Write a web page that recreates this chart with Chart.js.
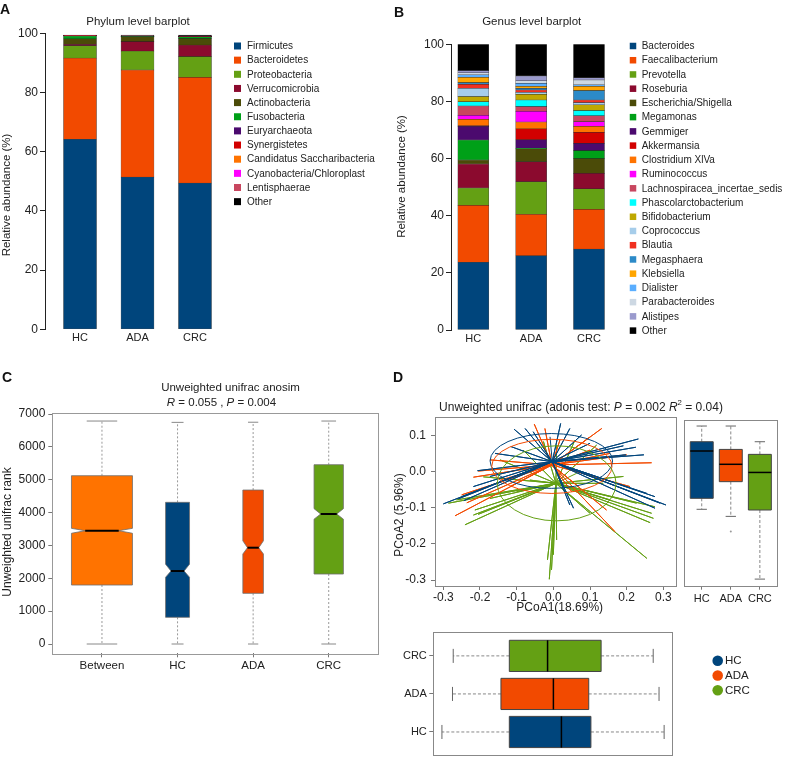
<!DOCTYPE html>
<html>
<head>
<meta charset="utf-8">
<title>Microbiota composition and beta diversity</title>
<script src="https://cdn.jsdelivr.net/npm/chart.js@4.4.1/dist/chart.umd.min.js"></script>
<style>
  html, body { margin: 0; padding: 0; background: #fff; }
  #fig { position: relative; width: 792px; height: 767px; overflow: hidden; background: #fff; }
  #fig canvas { position: absolute; }
</style>
</head>
<body>
<div id="fig"></div>
<script>
// ---- data ----
const groups = ['HC', 'ADA', 'CRC'];

// A: phylum level (relative abundance, %)
const phyla = ['Firmicutes', 'Bacteroidetes', 'Proteobacteria', 'Verrucomicrobia', 'Actinobacteria',
  'Fusobacteria', 'Euryarchaeota', 'Synergistetes', 'Candidatus Saccharibacteria',
  'Cyanobacteria/Chloroplast', 'Lentisphaerae', 'Other'];
const phylumHC = [64.2, 27.4, 4.2, 0.5, 1.8, 1.0, 0.05, 0.05, 0.05, 0.03, 0.02, 0.1];
const phylumADA = [51.4, 36.2, 6.4, 3.2, 1.6, 0.1, 0.05, 0.05, 0.05, 0.03, 0.02, 0.3];
const phylumCRC = [49.4, 35.7, 7.0, 3.9, 2.2, 0.6, 0.05, 0.05, 0.05, 0.03, 0.02, 0.4];
const phylumColors = ['#00457c', '#f24a00', '#64a014', '#8b0a2e', '#4b4b08', '#00a018',
  '#4b0a6e', '#d20000', '#ff7300', '#ff00ff', '#c8465f', '#000000'];

// B: genus level (relative abundance, %)
const genera = ['Bacteroides', 'Faecalibacterium', 'Prevotella', 'Roseburia', 'Escherichia/Shigella',
  'Megamonas', 'Gemmiger', 'Akkermansia', 'Clostridium XlVa', 'Ruminococcus',
  'Lachnospiracea_incertae_sedis', 'Phascolarctobacterium', 'Bifidobacterium', 'Coprococcus',
  'Blautia', 'Megasphaera', 'Klebsiella', 'Dialister', 'Parabacteroides', 'Alistipes', 'Other'];
const genusHC = [23.7, 19.9, 6.1, 8.4, 1.4, 7.0, 4.8, 0.2, 2.2, 1.4, 3.3, 1.5, 1.8, 2.9, 1.4, 0.6, 1.8, 0.9, 0.7, 0.8, 9.2];
const genusADA = [26.0, 14.5, 11.4, 7.0, 4.5, 0.2, 3.0, 3.8, 2.4, 3.7, 1.7, 2.3, 2.0, 0.7, 0.8, 0.6, 0.7, 1.0, 0.9, 1.7, 11.1];
const genusCRC = [28.3, 13.9, 7.2, 5.4, 5.2, 2.8, 2.5, 3.9, 2.1, 1.6, 2.1, 1.8, 2.0, 0.8, 0.9, 3.3, 1.5, 0.5, 1.7, 0.8, 11.7];
const genusColors = ['#00457c', '#f24a00', '#64a014', '#8b0a2e', '#4b4b08', '#00a018', '#4b0a6e',
  '#d20000', '#ff7300', '#ff00ff', '#c8465f', '#00ffff', '#bfa800', '#a6cdea', '#f03020',
  '#2c8ac8', '#ffa500', '#5aaeff', '#cdd8e3', '#9a9acd', '#000000'];
const abundanceTicks = [0, 20, 40, 60, 80, 100];

// C: anosim ranks
const anosimGroups = ['Between', 'HC', 'ADA', 'CRC'];
const rankLow = [0, 0, 0, 0];
const rankQ1 = [1795, 812, 1542, 2130];
const rankMedian = [3448, 2221, 2931, 3956];
const rankQ3 = [5122, 4312, 4686, 5457];
const rankHigh = [6786, 6746, 6750, 6786];
const rankNotchLow = [3370, 2030, 2740, 3800];
const rankNotchHigh = [3520, 2430, 3140, 4120];
const rankTicks = [0, 1000, 2000, 3000, 4000, 5000, 6000, 7000];
const anosimColors = ['#ff7300', '#00457c', '#f24a00', '#64a014'];

// D: PCoA
const groupColors = ['#00457c', '#f24a00', '#64a014'];
const centroidPC1 = [-0.003, -0.004, 0.007];
const centroidPC2 = [0.028, 0.019, -0.032];
const hcPC1 = [-0.300, -0.244, -0.250, -0.259, -0.207, -0.173, -0.107, -0.077, -0.055, -0.116, 0.020, 0.045, 0.100, 0.232, 0.225,
  0.191, 0.247, 0.198, 0.277, 0.277, 0.307, 0.291, 0.055, 0.045, -0.159, -0.041, -0.218, 0.077, 0.255, -0.009];
const hcPC2 = [-0.089, -0.080, -0.069, -0.075, 0.003, -0.013, 0.118, 0.120, 0.111, 0.070, 0.134, 0.120, 0.079, 0.091, 0.068,
  0.072, 0.047, 0.047, -0.069, -0.101, -0.092, -0.087, -0.101, -0.092, 0.051, 0.014, -0.041, 0.102, -0.060, 0.097];
const adaPC1 = [-0.268, -0.250, -0.236, -0.205, -0.218, -0.173, -0.052, -0.023, 0.018, 0.132, 0.098, 0.155, 0.268, 0.200, 0.168,
  0.145, 0.068, -0.118, 0.050, 0.209, 0.100, -0.145];
const adaPC2 = [-0.122, -0.064, -0.086, 0.002, -0.015, 0.033, 0.132, 0.120, 0.088, 0.120, 0.095, 0.051, 0.025, 0.047, -0.166,
  -0.106, -0.041, -0.041, -0.055, -0.041, 0.060, -0.023];
const crcPC1 = [-0.286, -0.264, -0.241, -0.205, -0.214, -0.173, -0.191, -0.145, -0.082, -0.027, 0.009, 0.059, 0.118, 0.191, 0.277, 0.273,
  0.264, 0.268, 0.255, -0.016, -0.011, 0.000, -0.005, 0.009, 0.227, 0.136, -0.100, -0.064, 0.100, -0.218, 0.155, 0.064];
const crcPC2 = [-0.087, -0.078, -0.147, -0.118, -0.106, -0.074, -0.014, 0.033, 0.060, 0.084, 0.074, 0.088, 0.074, -0.013, -0.097, -0.129,
  -0.141, -0.115, -0.240, -0.244, -0.298, -0.230, -0.272, -0.189, -0.087, -0.032, -0.055, -0.023, -0.115, -0.120, -0.078, -0.004];
const ellipseX = [-0.0055, -0.004, 0.009];
const ellipseY = [0.030, 0.015, -0.032];
const ellipseRX = [0.167, 0.164, 0.162];
const ellipseRY = [0.076, 0.075, 0.104];
const pc1Ticks = [-0.3, -0.2, -0.1, 0.0, 0.1, 0.2, 0.3];
const pc2Ticks = [-0.3, -0.2, -0.1, 0.0, 0.1];
// PCoA2 boxplot (right)
const pc2Low = [-0.101, -0.121, -0.298];
const pc2Q1 = [-0.070, -0.023, -0.103];
const pc2Median = [0.0635, 0.026, 0.003];
const pc2Q3 = [0.0897, 0.068, 0.054];
const pc2High = [0.134, 0.134, 0.0897];
const pc2Outliers = [[], [-0.164], []];
// PCoA1 boxplot (bottom)
const pc1Low = [-0.299, -0.270, -0.268];
const pc1Q1 = [-0.114, -0.137, -0.114];
const pc1Median = [0.029, 0.007, -0.009];
const pc1Q3 = [0.110, 0.104, 0.138];
const pc1High = [0.311, 0.297, 0.281];

// ---- setup ----
const FONT = '"Liberation Sans", Arial, sans-serif';
Chart.defaults.font.family = FONT;
Chart.defaults.font.size = 12;
Chart.defaults.color = '#222';
Chart.defaults.animation = false;
Chart.defaults.responsive = false;
Chart.defaults.plugins.legend.display = false;
Chart.defaults.plugins.tooltip.enabled = false;

const fig = document.getElementById('fig');

function makeCanvas(c) {
  const cv = document.createElement('canvas');
  cv.width = c.w;
  cv.height = c.h;
  cv.style.left = c.l + 'px';
  cv.style.top = c.t + 'px';
  fig.appendChild(cv);
  return cv.getContext('2d');
}

// padding + fixed axis sizes so that the chart area lands on plot rect p
function area(c, p, hasX, hasY) {
  const xH = c.t + c.h - p.b, yW = p.l - c.l;
  return {
    padding: { left: hasY ? 0 : yW, top: p.t - c.t, right: c.l + c.w - p.r, bottom: hasX ? 0 : xH },
    xH, yW
  };
}

const fixedTicks = values => a => { a.ticks = values.map(v => ({ value: v })); };
const rGrid = { drawOnChartArea: false, drawTicks: true, tickLength: 4, color: '#777', lineWidth: 1 };

function textFont(r, it) {
  const size = r.sup ? it.size * 0.65 : it.size;
  return `${r.italic ? 'italic ' : ''}${it.weight || 'normal'} ${size}px ${FONT}`;
}

// free text (titles, axis titles, panel letters)
const notesPlugin = {
  id: 'notes',
  afterDraw(chart, args, o) {
    if (!o.items) return;
    const ctx = chart.ctx;
    o.items.forEach(it => {
      ctx.save();
      ctx.translate(it.x - o.origin[0], it.y - o.origin[1]);
      if (it.rotate) ctx.rotate(it.rotate * Math.PI / 180);
      ctx.fillStyle = it.color || '#222';
      ctx.textBaseline = it.baseline || 'middle';
      ctx.textAlign = 'left';
      const runs = typeof it.text === 'string' ? [{ t: it.text }] : it.text;
      let total = 0;
      runs.forEach(r => { ctx.font = textFont(r, it); total += ctx.measureText(r.t).width; });
      let x = it.align === 'left' ? 0 : -total / 2;
      runs.forEach(r => {
        ctx.font = textFont(r, it);
        ctx.fillText(r.t, x, r.sup ? -it.size * 0.4 : 0);
        x += ctx.measureText(r.t).width;
      });
      ctx.restore();
    });
  }
};

// legend list drawn at a fixed spot
const keyPlugin = {
  id: 'key',
  afterDraw(chart, args, o) {
    if (!o.labels) return;
    const ctx = chart.ctx;
    ctx.save();
    o.labels.forEach((label, i) => {
      const y = o.y + i * o.step - o.origin[1];
      const x = o.x - o.origin[0];
      ctx.fillStyle = o.colors[i];
      if (o.round) {
        ctx.beginPath();
        ctx.arc(x, y, o.box / 2, 0, Math.PI * 2);
        ctx.fill();
      } else {
        ctx.fillRect(x - o.box / 2, y - o.box / 2, o.box, o.box);
      }
      ctx.fillStyle = '#222';
      ctx.font = `${o.size}px ${FONT}`;
      ctx.textBaseline = 'middle';
      ctx.textAlign = 'left';
      ctx.fillText(label, o.textX - o.origin[0], y + 0.5);
    });
    ctx.restore();
  }
};

// grey box round the plot region
const framePlugin = {
  id: 'frame',
  afterDraw(chart, args, o) {
    if (!o.color) return;
    const { left, top, right, bottom } = chart.chartArea;
    const ctx = chart.ctx;
    ctx.save();
    ctx.strokeStyle = o.color;
    ctx.lineWidth = 1;
    ctx.strokeRect(Math.round(left) + 0.5, Math.round(top) + 0.5, Math.round(right - left), Math.round(bottom - top));
    ctx.restore();
  }
};

// box-and-whisker plots, positions 1..n on the category axis
const boxPlugin = {
  id: 'boxes',
  afterDatasetsDraw(chart, args, o) {
    if (!o.stats) return;
    const ctx = chart.ctx;
    const hz = !!o.horizontal;
    const ps = chart.scales[hz ? 'y' : 'x'], vs = chart.scales[hz ? 'x' : 'y'];
    const pt = (p, v) => hz ? [vs.getPixelForValue(v), ps.getPixelForValue(p)]
                            : [ps.getPixelForValue(p), vs.getPixelForValue(v)];
    const seg = (a, b) => { ctx.beginPath(); ctx.moveTo(a[0], a[1]); ctx.lineTo(b[0], b[1]); ctx.stroke(); };
    ctx.save();
    o.stats.forEach((s, i) => {
      const p = i + 1, hw = o.widths[i] / 2, cw = hw * o.capFrac;
      ctx.lineWidth = 1;
      ctx.strokeStyle = o.whiskerColor;
      ctx.setLineDash(o.dash);
      seg(pt(p, s.q3), pt(p, s.hi));
      seg(pt(p, s.q1), pt(p, s.lo));
      ctx.setLineDash([]);
      ctx.strokeStyle = o.capColor;
      seg(pt(p - cw, s.hi), pt(p + cw, s.hi));
      seg(pt(p - cw, s.lo), pt(p + cw, s.lo));
      const notched = s.nlo != null;
      const nf = notched ? hw * o.notchFrac : hw;
      const poly = notched
        ? [[p - hw, s.q1], [p - hw, s.nlo], [p - nf, s.med], [p - hw, s.nhi], [p - hw, s.q3],
           [p + hw, s.q3], [p + hw, s.nhi], [p + nf, s.med], [p + hw, s.nlo], [p + hw, s.q1]]
        : [[p - hw, s.q1], [p - hw, s.q3], [p + hw, s.q3], [p + hw, s.q1]];
      ctx.beginPath();
      poly.forEach(([a, b], k) => { const [x, y] = pt(a, b); k ? ctx.lineTo(x, y) : ctx.moveTo(x, y); });
      ctx.closePath();
      ctx.fillStyle = o.colors[i];
      ctx.fill();
      ctx.strokeStyle = o.borderColor;
      ctx.stroke();
      ctx.strokeStyle = '#000';
      ctx.lineWidth = o.medianWidth;
      seg(pt(p - nf, s.med), pt(p + nf, s.med));
      (s.out || []).forEach(v => {
        const [x, y] = pt(p, v);
        ctx.fillStyle = '#999';
        ctx.beginPath();
        ctx.arc(x, y, 1, 0, Math.PI * 2);
        ctx.fill();
      });
    });
    ctx.restore();
  }
};

// group ellipses on the PCoA plot
const ellipsePlugin = {
  id: 'ellipses',
  afterDatasetsDraw(chart, args, o) {
    if (!o.cx) return;
    const { x, y } = chart.scales;
    const ctx = chart.ctx;
    ctx.save();
    o.cx.forEach((cx, i) => {
      const px = x.getPixelForValue(cx), py = y.getPixelForValue(o.cy[i]);
      const rx = Math.abs(x.getPixelForValue(cx + o.rx[i]) - px);
      const ry = Math.abs(y.getPixelForValue(o.cy[i] + o.ry[i]) - py);
      ctx.strokeStyle = o.colors[i];
      ctx.lineWidth = 1;
      ctx.beginPath();
      ctx.ellipse(px, py, rx, ry, 0, 0, Math.PI * 2);
      ctx.stroke();
    });
    ctx.restore();
  }
};

Chart.register(notesPlugin, keyPlugin, framePlugin, boxPlugin, ellipsePlugin);

// stacked bar panel (A and B)
function barPanel(c, p, xMin, xMax, barWidth, names, colors, perGroup, notes, key) {
  const f = area(c, p, true, true);
  return new Chart(makeCanvas(c), {
    type: 'bar',
    data: {
      datasets: names.map((name, i) => ({
        label: name,
        data: groups.map((g, gi) => ({ x: gi + 1, y: perGroup[gi][i] })),
        backgroundColor: colors[i],
        borderColor: 'rgba(0,0,0,0.7)',
        borderWidth: 0.5,
        borderSkipped: false,
        barThickness: barWidth
      }))
    },
    options: {
      layout: { padding: f.padding },
      scales: {
        x: {
          type: 'linear', min: xMin, max: xMax, stacked: true, offset: false,
          afterBuildTicks: fixedTicks(groups.map((g, i) => i + 1)),
          afterFit: a => { a.height = f.xH; },
          grid: { display: false, drawTicks: false, tickLength: 0, offset: false },
          border: { display: false },
          ticks: { callback: v => groups[v - 1], font: { size: 11 }, padding: 2, autoSkip: false, maxRotation: 0 }
        },
        y: {
          type: 'linear', min: 0, max: 100, stacked: true,
          afterBuildTicks: fixedTicks(abundanceTicks),
          afterFit: a => { a.width = f.yW; },
          grid: { drawOnChartArea: false, tickLength: 5, color: '#222' },
          border: { display: true, color: '#222', width: 1 },
          ticks: { callback: v => String(v), font: { size: 12 }, padding: 2 }
        }
      },
      plugins: {
        notes: { origin: [c.l, c.t], items: notes },
        key: Object.assign({ origin: [c.l, c.t], labels: names, colors: colors }, key)
      }
    }
  });
}

// ---- A ----
const cA = { l: 0, t: 0, w: 390, h: 345 };
barPanel(cA, { l: 45, t: 33.3, r: 230, b: 329.3 }, 0.391, 3.609, 33,
  phyla, phylumColors, [phylumHC, phylumADA, phylumCRC],
  [
    { text: 'A', x: 0, y: 13.5, size: 14, weight: 'bold', align: 'left', baseline: 'alphabetic', color: '#111' },
    { text: 'Phylum level barplot', x: 138, y: 22, size: 11.5 },
    { text: 'Relative abundance (%)', x: 7, y: 195, size: 11.5, rotate: -90 }
  ],
  { x: 237.5, y: 46, step: 14.15, box: 7, textX: 247, size: 10 });

// ---- B ----
const cB = { l: 390, t: 0, w: 402, h: 345 };
barPanel(cB, { l: 451, t: 44.3, r: 620, b: 330 }, 0.6145, 3.536, 31,
  genera, genusColors, [genusHC, genusADA, genusCRC],
  [
    { text: 'B', x: 394, y: 16.7, size: 14, weight: 'bold', align: 'left', baseline: 'alphabetic', color: '#111' },
    { text: 'Genus level barplot', x: 531.7, y: 22, size: 11.5 },
    { text: 'Relative abundance (%)', x: 401.7, y: 176.5, size: 11.5, rotate: -90 }
  ],
  { x: 633, y: 46, step: 14.23, box: 6.5, textX: 641.7, size: 10 });

// ---- C ----
const cC = { l: 0, t: 345, w: 390, h: 340 };
const fC = area(cC, { l: 52.3, t: 412.7, r: 378.3, b: 653.3 }, true, true);
new Chart(makeCanvas(cC), {
  type: 'scatter',
  data: { datasets: [] },
  options: {
    layout: { padding: fC.padding },
    scales: {
      x: {
        type: 'linear', min: 0.343, max: 4.656,
        afterBuildTicks: fixedTicks(anosimGroups.map((g, i) => i + 1)),
        afterFit: a => { a.height = fC.xH; },
        grid: rGrid, border: { display: false },
        ticks: { callback: v => anosimGroups[v - 1], font: { size: 11.5 }, padding: 2, autoSkip: false, maxRotation: 0 }
      },
      y: {
        type: 'linear', min: -283, max: 7040,
        afterBuildTicks: fixedTicks(rankTicks),
        afterFit: a => { a.width = fC.yW; },
        grid: rGrid, border: { display: false },
        ticks: { callback: v => String(v), font: { size: 12 }, padding: 3 }
      }
    },
    plugins: {
      frame: { color: '#999' },
      boxes: {
        stats: anosimGroups.map((g, i) => ({
          lo: rankLow[i], q1: rankQ1[i], med: rankMedian[i], q3: rankQ3[i], hi: rankHigh[i],
          nlo: rankNotchLow[i], nhi: rankNotchHigh[i]
        })),
        widths: [0.807, 0.317, 0.272, 0.388],
        colors: anosimColors,
        capFrac: 0.5, notchFrac: 0.55, medianWidth: 2,
        whiskerColor: '#999', capColor: '#888', borderColor: 'rgba(110,110,110,0.8)', dash: [2, 2]
      },
      notes: {
        origin: [cC.l, cC.t],
        items: [
          { text: 'C', x: 2, y: 381.7, size: 14, weight: 'bold', align: 'left', baseline: 'alphabetic', color: '#111' },
          { text: 'Unweighted unifrac anosim', x: 230.5, y: 388, size: 11.5 },
          { text: [{ t: 'R', italic: true }, { t: ' = 0.055 , ' }, { t: 'P', italic: true }, { t: ' = 0.004' }], x: 221.5, y: 402.7, size: 11.5 },
          { text: 'Unweighted unifrac rank', x: 8, y: 532, size: 12, rotate: -90 }
        ]
      }
    }
  }
});

// ---- D: PCoA spider plot ----
const cD1 = { l: 390, t: 345, w: 402, h: 275 };
const fD1 = area(cD1, { l: 435, t: 417.3, r: 676, b: 586 }, true, true);
const endsPC1 = [hcPC1, adaPC1, crcPC1];
const endsPC2 = [hcPC2, adaPC2, crcPC2];
new Chart(makeCanvas(cD1), {
  type: 'scatter',
  data: {
    datasets: groups.map((g, gi) => ({
      label: g,
      data: endsPC1[gi].flatMap((x, k) => [
        { x: centroidPC1[gi], y: centroidPC2[gi] },
        { x: x, y: endsPC2[gi][k] }
      ]),
      showLine: true,
      pointRadius: 0,
      borderColor: groupColors[gi],
      borderWidth: 1,
      tension: 0
    }))
  },
  options: {
    layout: { padding: fD1.padding },
    scales: {
      x: {
        type: 'linear', min: -0.3227, max: 0.3345,
        afterBuildTicks: fixedTicks(pc1Ticks),
        afterFit: a => { a.height = fD1.xH; },
        grid: rGrid, border: { display: false },
        ticks: { callback: v => v.toFixed(1), font: { size: 12 }, padding: 0, autoSkip: false, maxRotation: 0 }
      },
      y: {
        type: 'linear', min: -0.3166, max: 0.151,
        afterBuildTicks: fixedTicks(pc2Ticks),
        afterFit: a => { a.width = fD1.yW; },
        grid: rGrid, border: { display: false },
        ticks: { callback: v => v.toFixed(1), font: { size: 12 }, padding: 5 }
      }
    },
    plugins: {
      frame: { color: '#888' },
      ellipses: { cx: ellipseX, cy: ellipseY, rx: ellipseRX, ry: ellipseRY, colors: groupColors },
      notes: {
        origin: [cD1.l, cD1.t],
        items: [
          { text: 'D', x: 393, y: 381.5, size: 14, weight: 'bold', align: 'left', baseline: 'alphabetic', color: '#111' },
          { text: [{ t: 'Unweighted unifrac (adonis test: ' }, { t: 'P', italic: true }, { t: ' = 0.002 ' },
                   { t: 'R', italic: true }, { t: '2', sup: true }, { t: ' = 0.04)' }], x: 581, y: 408, size: 12 },
          { text: 'PCoA2 (5.96%)', x: 400, y: 515, size: 12, rotate: -90 },
          { text: 'PCoA1(18.69%)', x: 559.7, y: 608, size: 12 }
        ]
      }
    }
  }
});

// ---- D: PCoA2 boxplot (right) ----
const cD2 = { l: 680, t: 400, w: 112, h: 215 };
const fD2 = area(cD2, { l: 684, t: 420, r: 777.3, b: 585.7 }, true, false);
new Chart(makeCanvas(cD2), {
  type: 'scatter',
  data: { datasets: [] },
  options: {
    layout: { padding: fD2.padding },
    scales: {
      x: {
        type: 'linear', min: 0.39, max: 3.6,
        afterBuildTicks: fixedTicks(groups.map((g, i) => i + 1)),
        afterFit: a => { a.height = fD2.xH; },
        grid: rGrid, border: { display: false },
        ticks: { callback: v => groups[v - 1], font: { size: 11 }, padding: 2.5, autoSkip: false, maxRotation: 0 }
      },
      y: { type: 'linear', min: -0.3166, max: 0.151, display: false }
    },
    plugins: {
      frame: { color: '#888' },
      boxes: {
        stats: groups.map((g, i) => ({ lo: pc2Low[i], q1: pc2Q1[i], med: pc2Median[i], q3: pc2Q3[i], hi: pc2High[i], out: pc2Outliers[i] })),
        widths: [0.79, 0.79, 0.79],
        colors: groupColors,
        capFrac: 0.45, medianWidth: 1.5,
        whiskerColor: '#888', capColor: '#666', borderColor: '#444', dash: [3, 2]
      }
    }
  }
});

// ---- D: PCoA1 boxplot (bottom) + legend ----
const cD3 = { l: 390, t: 620, w: 402, h: 147 };
const fD3 = area(cD3, { l: 433.3, t: 632.3, r: 672.7, b: 755 }, false, true);
new Chart(makeCanvas(cD3), {
  type: 'scatter',
  data: { datasets: [] },
  options: {
    layout: { padding: fD3.padding },
    scales: {
      x: { type: 'linear', min: -0.3227, max: 0.3345, display: false },
      y: {
        type: 'linear', min: 0.395, max: 3.62,
        afterBuildTicks: fixedTicks(groups.map((g, i) => i + 1)),
        afterFit: a => { a.width = fD3.yW; },
        grid: rGrid, border: { display: false },
        ticks: { callback: v => groups[v - 1], font: { size: 11 }, padding: 2.5, autoSkip: false }
      }
    },
    plugins: {
      frame: { color: '#888' },
      boxes: {
        horizontal: true,
        stats: groups.map((g, i) => ({ lo: pc1Low[i], q1: pc1Q1[i], med: pc1Median[i], q3: pc1Q3[i], hi: pc1High[i] })),
        widths: [0.82, 0.82, 0.82],
        colors: groupColors,
        capFrac: 0.45, medianWidth: 1.5,
        whiskerColor: '#888', capColor: '#666', borderColor: '#444', dash: [3, 2]
      },
      key: { origin: [cD3.l, cD3.t], labels: groups, colors: groupColors, round: true,
             x: 717.7, y: 660.7, step: 14.8, box: 10.6, textX: 725, size: 11.5 }
    }
  }
});
</script>
</body>
</html>
